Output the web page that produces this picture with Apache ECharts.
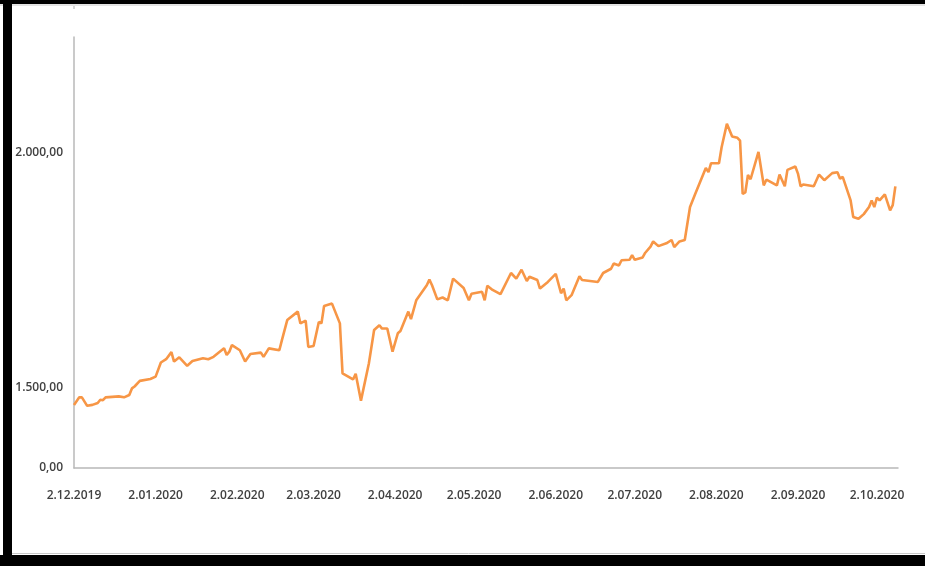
<!DOCTYPE html>
<html>
<head>
<meta charset="utf-8">
<script src="https://cdn.jsdelivr.net/npm/echarts@6/dist/echarts.min.js"></script>
<style>
html,body{margin:0;padding:0;background:#fff;}
#chart{width:925px;height:566px;}
</style>
</head>
<body>
<div id="chart"></div>
<script>
const dates = [
'2019-12-02','2019-12-04','2019-12-05','2019-12-07','2019-12-09','2019-12-11','2019-12-12','2019-12-13','2019-12-14','2019-12-19',
'2019-12-21','2019-12-23','2019-12-24','2019-12-25','2019-12-27','2019-12-31','2020-01-02','2020-01-04','2020-01-06','2020-01-08',
'2020-01-09','2020-01-11','2020-01-14','2020-01-16','2020-01-20','2020-01-22','2020-01-24','2020-01-28','2020-01-29','2020-01-30',
'2020-01-31','2020-02-03','2020-02-05','2020-02-07','2020-02-11','2020-02-12','2020-02-14','2020-02-18','2020-02-19','2020-02-21',
'2020-02-25','2020-02-26','2020-02-28','2020-02-29','2020-03-02','2020-03-04','2020-03-05','2020-03-06','2020-03-09','2020-03-12',
'2020-03-13','2020-03-17','2020-03-18','2020-03-20','2020-03-23','2020-03-25','2020-03-27','2020-03-28','2020-03-30','2020-04-01',
'2020-04-03','2020-04-04','2020-04-07','2020-04-08','2020-04-10','2020-04-14','2020-04-15','2020-04-16','2020-04-18','2020-04-20',
'2020-04-22','2020-04-24','2020-04-28','2020-04-30','2020-05-01','2020-05-05','2020-05-06','2020-05-07','2020-05-09','2020-05-12',
'2020-05-16','2020-05-18','2020-05-20','2020-05-22','2020-05-23','2020-05-26','2020-05-27','2020-05-30','2020-06-02','2020-06-04',
'2020-06-05','2020-06-06','2020-06-08','2020-06-11','2020-06-12','2020-06-18','2020-06-20','2020-06-23','2020-06-24','2020-06-26',
'2020-06-27','2020-06-30','2020-07-01','2020-07-02','2020-07-05','2020-07-06','2020-07-08','2020-07-09','2020-07-11','2020-07-14',
'2020-07-16','2020-07-17','2020-07-19','2020-07-21','2020-07-23','2020-07-25','2020-07-29','2020-07-30','2020-07-31','2020-08-03',
'2020-08-04','2020-08-06','2020-08-08','2020-08-10','2020-08-11','2020-08-12','2020-08-13','2020-08-14','2020-08-15','2020-08-18',
'2020-08-20','2020-08-21','2020-08-25','2020-08-26','2020-08-28','2020-08-29','2020-09-01','2020-09-02','2020-09-03','2020-09-04',
'2020-09-08','2020-09-10','2020-09-12','2020-09-15','2020-09-17','2020-09-18','2020-09-19','2020-09-22','2020-09-23','2020-09-25',
'2020-09-27','2020-09-29','2020-09-30','2020-10-01','2020-10-02','2020-10-03','2020-10-05','2020-10-07','2020-10-08','2020-10-09'
];
const prices = [
1464,1480,1480,1462,1464,1468,1475,1474,1480,1482,
1480,1485,1499,1503,1515,1519,1524,1554,1561,1576,
1556,1565,1547,1557,1563,1561,1566,1584,1570,1577,
1591,1580,1556,1572,1575,1566,1584,1580,1602,1644,
1662,1637,1643,1587,1589,1640,1637,1674,1679,1637,
1531,1518,1530,1473,1552,1623,1633,1626,1626,1577,
1616,1621,1662,1646,1686,1718,1730,1718,1688,1692,
1686,1732,1712,1686,1700,1704,1686,1717,1708,1699,
1744,1732,1751,1727,1736,1729,1711,1725,1742,1701,
1711,1686,1697,1737,1729,1725,1744,1753,1764,1760,
1771,1772,1782,1772,1777,1787,1800,1811,1801,1807,
1814,1799,1811,1814,1884,1912,1967,1958,1977,1977,
2011,2061,2034,2031,2025,1912,1915,1952,1943,2001,
1930,1942,1930,1953,1928,1963,1970,1955,1928,1932,
1928,1953,1941,1956,1958,1944,1948,1898,1863,1859,
1869,1884,1898,1884,1904,1898,1911,1877,1888,1928
];
// Axis ticks
const xTickDates = ['2019-12-02','2020-01-02','2020-02-02','2020-03-02','2020-04-02','2020-05-02','2020-06-02','2020-07-02','2020-08-02','2020-09-02','2020-10-02'];
const xTickLabels = ['2.12.2019','2.01.2020','2.02.2020','2.03.2020','2.04.2020','2.05.2020','2.06.2020','2.07.2020','2.08.2020','2.09.2020','2.10.2020'];
const yTickValues = [1330, 1500, 2000];
const yTickLabels = ['0,00', '1.500,00', '2.000,00'];
const xMin = '2019-12-02';
const xMax = '2020-10-10';
const yMin = 1330;
const yMax = 2245;

const toTs = s => Date.UTC(+s.slice(0,4), +s.slice(5,7) - 1, +s.slice(8,10));
const xTickTs = xTickDates.map(toTs);
const seriesData = dates.map((d, i) => [toTs(d), prices[i]]);

const chart = echarts.init(document.getElementById('chart'), null, {renderer: 'canvas'});
const labelFont = {fontFamily: 'Open Sans', fontSize: 12, fontWeight: 600, color: '#404040'};
chart.setOption({
  animation: false,
  backgroundColor: '#ffffff',
  grid: {left: 74, right: 27, top: 37, bottom: 98, containLabel: false},
  xAxis: {
    type: 'value',
    min: toTs(xMin),
    max: toTs(xMax),
    scale: true,
    splitLine: {show: false},
    axisTick: {show: false},
    axisLine: {show: true, lineStyle: {color: '#b8b8b8', width: 1.5}},
    axisLabel: Object.assign({
      customValues: xTickTs,
      margin: 22,
      hideOverlap: false,
      formatter: function (v) {
        const idx = xTickTs.indexOf(v);
        return idx >= 0 ? xTickLabels[idx] : '';
      }
    }, labelFont)
  },
  yAxis: {
    type: 'value',
    min: yMin,
    max: yMax,
    splitLine: {show: false},
    axisTick: {show: false},
    axisLine: {show: true, lineStyle: {color: '#b8b8b8', width: 1.5}},
    axisLabel: Object.assign({
      customValues: yTickValues,
      margin: 11,
      formatter: function (v) {
        const idx = yTickValues.indexOf(v);
        return idx >= 0 ? yTickLabels[idx] : '';
      }
    }, labelFont)
  },
  series: [{
    type: 'line',
    data: seriesData,
    showSymbol: false,
    symbol: 'none',
    lineStyle: {color: '#f79646', width: 2.6},
    itemStyle: {color: '#f79646'}
  }],
  graphic: [
    {type: 'rect', shape: {x: 0, y: 0, width: 925, height: 4}, style: {fill: '#000'}},
    {type: 'line', shape: {x1: 0, y1: 5, x2: 925, y2: 5}, style: {stroke: '#c8c8c8', lineWidth: 1}},
    {type: 'rect', shape: {x: 3, y: 0, width: 9, height: 566}, style: {fill: '#000'}},
    {type: 'rect', shape: {x: 0, y: 555, width: 925, height: 11}, style: {fill: '#000'}},
    {type: 'line', shape: {x1: 12, y1: 553.5, x2: 925, y2: 553.5}, style: {stroke: '#c8c8c8', lineWidth: 1}},
    {type: 'line', shape: {x1: 74, y1: 6, x2: 74, y2: 9}, style: {stroke: '#c8c8c8', lineWidth: 1.5}}
  ]
});
</script>
</body>
</html>
